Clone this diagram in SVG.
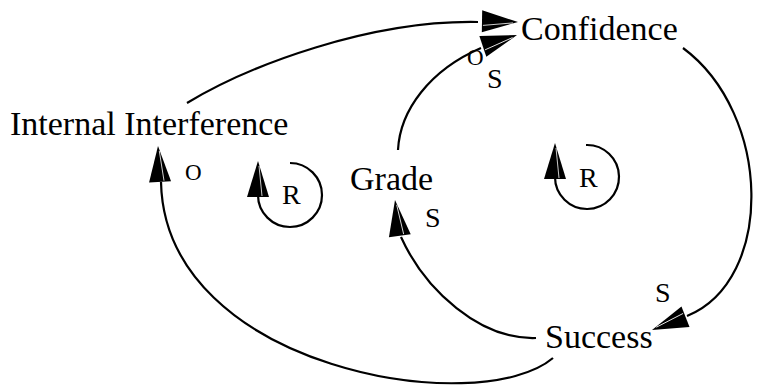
<svg xmlns="http://www.w3.org/2000/svg" width="763" height="389" viewBox="0 0 763 389">
<style>
text{font-family:'Liberation Serif','Times New Roman',Times,serif;fill:#000}
.lbl{font-size:34px}
.pol{font-size:28px}
.o{font-size:23px}
.ln{fill:none;stroke:#000;stroke-width:2.2}
</style>
<defs>
<g id="ah">
<polygon points="0,0 -36,-11 -36,11" fill="#000"/>
<line x1="-35" y1="4" x2="-5" y2="1" stroke="#fff" stroke-width="0.8"/>
</g>
</defs>
<rect width="763" height="389" fill="#fff"/>
<g id="connectors">
<path class="ln" d="M187,103 C250,65 370,20 478,22"/>
<use href="#ah" transform="translate(518,22) rotate(1)"/>
<path class="ln" d="M398,150 C400,110 430,70 481,48"/>
<use href="#ah" transform="translate(517,35) rotate(-18.4)"/>
<path class="ln" d="M683,48 C772,114 775,280 687,316"/>
<use href="#ah" transform="translate(652,330) rotate(158.5)"/>
<path class="ln" d="M536,338 C480,340 425,290 401,237"/>
<use href="#ah" transform="translate(395,200) rotate(-97.7)"/>
<path class="ln" d="M553,358 C480,420 165,370 161,182"/>
<use href="#ah" transform="translate(158,146) rotate(-93.3)"/>
<path class="ln" d="M290,163 A32,32 0 1 1 258,195"/>
<use href="#ah" transform="translate(258,161) rotate(-90)"/>
<path class="ln" d="M586,145 A32,32 0 1 1 555,177"/>
<use href="#ah" transform="translate(555,143) rotate(-90)"/>
</g>
<g id="node-internal-interference"><text class="lbl" font-family="Liberation Serif, serif" x="10" y="135">Internal Interference</text></g>
<g id="node-confidence"><text class="lbl" font-family="Liberation Serif, serif" x="521" y="40">Confidence</text></g>
<g id="node-grade"><text class="lbl" font-family="Liberation Serif, serif" x="350" y="190">Grade</text></g>
<g id="node-success"><text class="lbl" font-family="Liberation Serif, serif" x="545" y="348">Success</text></g>
<g id="polarity-labels">
<text class="o" font-family="Liberation Serif, serif" x="185" y="180">O</text>
<text class="o" font-family="Liberation Serif, serif" x="467" y="65">O</text>
<text class="pol" font-family="Liberation Serif, serif" x="487" y="88">S</text>
<text class="pol" font-family="Liberation Serif, serif" x="425" y="227">S</text>
<text class="pol" font-family="Liberation Serif, serif" x="655" y="302">S</text>
</g>
<g id="loop-left"><text class="pol" font-family="Liberation Serif, serif" x="282" y="204">R</text></g>
<g id="loop-right"><text class="pol" font-family="Liberation Serif, serif" x="579" y="187">R</text></g>
</svg>
